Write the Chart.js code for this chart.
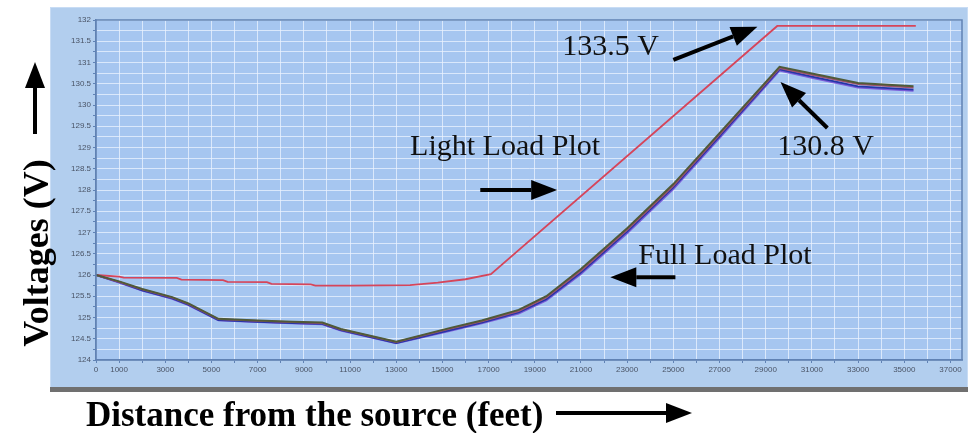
<!DOCTYPE html>
<html>
<head>
<meta charset="utf-8">
<script src="https://cdn.jsdelivr.net/npm/chart.js@4.4.1/dist/chart.umd.min.js"></script>
<style>
  html, body { margin: 0; padding: 0; background: #fff; }
  #wrap { width: 972px; height: 433px; }
</style>
</head>
<body>
<div id="wrap"><canvas id="chart" width="972" height="433"></canvas></div>
<script>
// tick labels that are printed on the axes
const xLabelTicks = [0, 1000, 3000, 5000, 7000, 9000, 11000, 13000, 15000, 17000, 19000,
  21000, 23000, 25000, 27000, 29000, 31000, 33000, 35000, 37000];
const yLabelTicks = [124, 124.5, 125, 125.5, 126, 126.5, 127, 127.5, 128, 128.5, 129,
  129.5, 130, 130.5, 131, 131.5, 132];

// light load (red line)
const lightDist = [0, 1000, 1200, 3500, 3700, 5500, 5700, 7400, 7600, 9300, 9500, 11000,
  13600, 14800, 16000, 17100, 29500, 35500];
const lightVolt = [126.0, 125.96, 125.94, 125.93, 125.89, 125.88, 125.84, 125.83, 125.79,
  125.78, 125.75, 125.75, 125.76, 125.82, 125.9, 126.02, 131.86, 131.86];

// full load (several overlapping phases)
const fullDist = [0, 1000, 2000, 3300, 4000, 5300, 7000, 8500, 9800, 10600, 13000, 15300,
  16700, 18300, 19500, 21000, 23000, 25000, 27000, 29600, 31000, 33000, 35400];
const fullVoltA = [126.0, 125.85, 125.67, 125.48, 125.33, 124.97, 124.93, 124.9, 124.88,
  124.73, 124.43, 124.75, 124.93, 125.18, 125.5, 126.14, 127.1, 128.14, 129.34, 130.9,
  130.74, 130.52, 130.44];
const fullVoltB = [126.0, 125.84, 125.66, 125.47, 125.32, 124.96, 124.92, 124.89, 124.87,
  124.72, 124.42, 124.73, 124.91, 125.15, 125.47, 126.1, 127.06, 128.1, 129.3, 130.87,
  130.71, 130.49, 130.41];
const fullVoltC = [126.0, 125.83, 125.64, 125.45, 125.3, 124.94, 124.9, 124.87, 124.85,
  124.7, 124.4, 124.7, 124.88, 125.12, 125.43, 126.06, 127.02, 128.06, 129.26, 130.84,
  130.67, 130.44, 130.36];
const fullVoltD = [126.0, 125.82, 125.63, 125.44, 125.29, 124.93, 124.89, 124.86, 124.84,
  124.69, 124.39, 124.68, 124.86, 125.09, 125.4, 126.02, 126.98, 128.02, 129.22, 130.81,
  130.64, 130.41, 130.33];

const toPoints = (xs, ys) => xs.map((x, i) => ({ x: x, y: ys[i] }));
const isLabelled = (list, v) => list.some(t => Math.abs(t - v) < 1e-6);

// annotation texts / arrows, given in data coordinates
const notes = [
  { text: '133.5 V', x: 20190, y: 131.18 },
  { text: 'Light Load Plot', x: 13600, y: 128.82 },
  { text: '130.8 V', x: 29500, y: 128.82 },
  { text: 'Full Load Plot', x: 23480, y: 126.26 }
];
const arrows = [
  { from: [25000, 131.06], to: [28640, 131.84] },
  { from: [16640, 128.0], to: [19970, 128.0] },
  { from: [31670, 129.46], to: [29640, 130.54] },
  { from: [25090, 125.95], to: [22270, 125.95] }
];

function drawArrow(ctx, x1, y1, x2, y2, lw, headLen, headW) {
  const ang = Math.atan2(y2 - y1, x2 - x1);
  const bx = x2 - headLen * Math.cos(ang);
  const by = y2 - headLen * Math.sin(ang);
  ctx.save();
  ctx.strokeStyle = '#000';
  ctx.fillStyle = '#000';
  ctx.lineWidth = lw;
  ctx.beginPath();
  ctx.moveTo(x1, y1);
  ctx.lineTo(bx, by);
  ctx.stroke();
  ctx.beginPath();
  ctx.moveTo(x2, y2);
  ctx.lineTo(bx + headW / 2 * Math.sin(ang), by - headW / 2 * Math.cos(ang));
  ctx.lineTo(bx - headW / 2 * Math.sin(ang), by + headW / 2 * Math.cos(ang));
  ctx.closePath();
  ctx.fill();
  ctx.restore();
}

const decorPlugin = {
  id: 'decor',
  beforeDraw(chart) {
    const ctx = chart.ctx;
    const a = chart.chartArea;
    ctx.save();
    ctx.fillStyle = '#ffffff';
    ctx.fillRect(0, 0, chart.width, chart.height);
    // outer panel
    ctx.fillStyle = 'rgb(178,206,238)';
    ctx.fillRect(50, 7, 918, 381);
    ctx.strokeStyle = 'rgb(200,220,244)';
    ctx.lineWidth = 1;
    ctx.strokeRect(50.5, 7.5, 917, 380);
    ctx.fillStyle = '#707070';
    ctx.fillRect(50, 387, 918, 5);
    // plot area
    ctx.fillStyle = 'rgb(166,198,240)';
    ctx.fillRect(a.left, a.top, a.right - a.left, a.bottom - a.top);
    ctx.restore();
  },
  afterDatasetsDraw(chart) {
    const ctx = chart.ctx;
    const a = chart.chartArea;
    const sx = chart.scales.x, sy = chart.scales.y;
    ctx.save();
    ctx.strokeStyle = 'rgb(96,130,180)';
    ctx.lineWidth = 1.5;
    ctx.strokeRect(a.left, a.top, a.right - a.left, a.bottom - a.top);

    ctx.fillStyle = '#111';
    ctx.font = '30px "Liberation Serif", "Times New Roman", serif';
    ctx.textBaseline = 'alphabetic';
    ctx.textAlign = 'left';
    notes.forEach(n => {
      ctx.fillText(n.text, sx.getPixelForValue(n.x), sy.getPixelForValue(n.y));
    });
    arrows.forEach(ar => {
      drawArrow(ctx, sx.getPixelForValue(ar.from[0]), sy.getPixelForValue(ar.from[1]),
        sx.getPixelForValue(ar.to[0]), sy.getPixelForValue(ar.to[1]), 4, 26, 20);
    });

    // outer axis titles
    ctx.fillStyle = '#000';
    ctx.font = 'bold 36px "Liberation Serif", "Times New Roman", serif';
    ctx.save();
    ctx.translate(48, 253);
    ctx.rotate(-Math.PI / 2);
    ctx.textAlign = 'center';
    ctx.fillText('Voltages (V)', 0, 0);
    ctx.restore();
    drawArrow(ctx, 35, 134, 35, 62, 4, 26, 20);

    ctx.font = 'bold 35px "Liberation Serif", "Times New Roman", serif';
    ctx.textAlign = 'left';
    ctx.fillText('Distance from the source (feet)', 86, 426);
    drawArrow(ctx, 556, 413, 692, 413, 4, 26, 20);
    ctx.restore();
  }
};

new Chart(document.getElementById('chart'), {
  type: 'line',
  data: {
    datasets: [
      { label: 'Full load A', data: toPoints(fullDist, fullVoltA), borderColor: '#4f5a38', borderWidth: 2 },
      { label: 'Full load B', data: toPoints(fullDist, fullVoltB), borderColor: '#a05070', borderWidth: 1.8 },
      { label: 'Full load C', data: toPoints(fullDist, fullVoltC), borderColor: '#2536a8', borderWidth: 1.8 },
      { label: 'Full load D', data: toPoints(fullDist, fullVoltD), borderColor: '#7a5cd8', borderWidth: 1.8 },
      { label: 'Light load', data: toPoints(lightDist, lightVolt), borderColor: '#d6455a', borderWidth: 1.8 }
    ]
  },
  options: {
    responsive: false,
    animation: false,
    events: [],
    layout: { padding: { left: 50, top: 20, right: 10, bottom: 48 } },
    elements: { point: { radius: 0 }, line: { tension: 0 } },
    plugins: { legend: { display: false }, tooltip: { enabled: false } },
    scales: {
      x: {
        type: 'linear',
        min: 0,
        max: 37500,
        afterFit: scale => { scale.height = 25; },
        afterBuildTicks: scale => {
          const t = [];
          for (let v = 0; v <= 37000; v += 1000) t.push({ value: v });
          scale.ticks = t;
        },
        ticks: {
          autoSkip: false,
          maxRotation: 0,
          minRotation: 0,
          padding: 2,
          color: '#4a5466',
          font: { size: 8, family: 'Arial, "Liberation Sans", sans-serif' },
          callback: v => isLabelled(xLabelTicks, v) ? String(Math.round(v)) : ''
        },
        grid: { color: 'rgba(235,243,255,0.75)', lineWidth: 1, tickLength: 3, tickColor: 'rgb(96,130,180)' },
        border: { color: 'rgb(96,130,180)', width: 1.5 }
      },
      y: {
        min: 124,
        max: 132,
        afterFit: scale => { scale.width = 46; },
        ticks: {
          stepSize: 0.25,
          autoSkip: false,
          padding: 2,
          color: '#4a5466',
          font: { size: 8, family: 'Arial, "Liberation Sans", sans-serif' },
          callback: v => isLabelled(yLabelTicks, v) ? String(v) : ''
        },
        grid: { color: 'rgba(235,243,255,0.75)', lineWidth: 1, tickLength: 3, tickColor: 'rgb(96,130,180)' },
        border: { color: 'rgb(96,130,180)', width: 1.5 }
      }
    }
  },
  plugins: [decorPlugin]
});
</script>
</body>
</html>
